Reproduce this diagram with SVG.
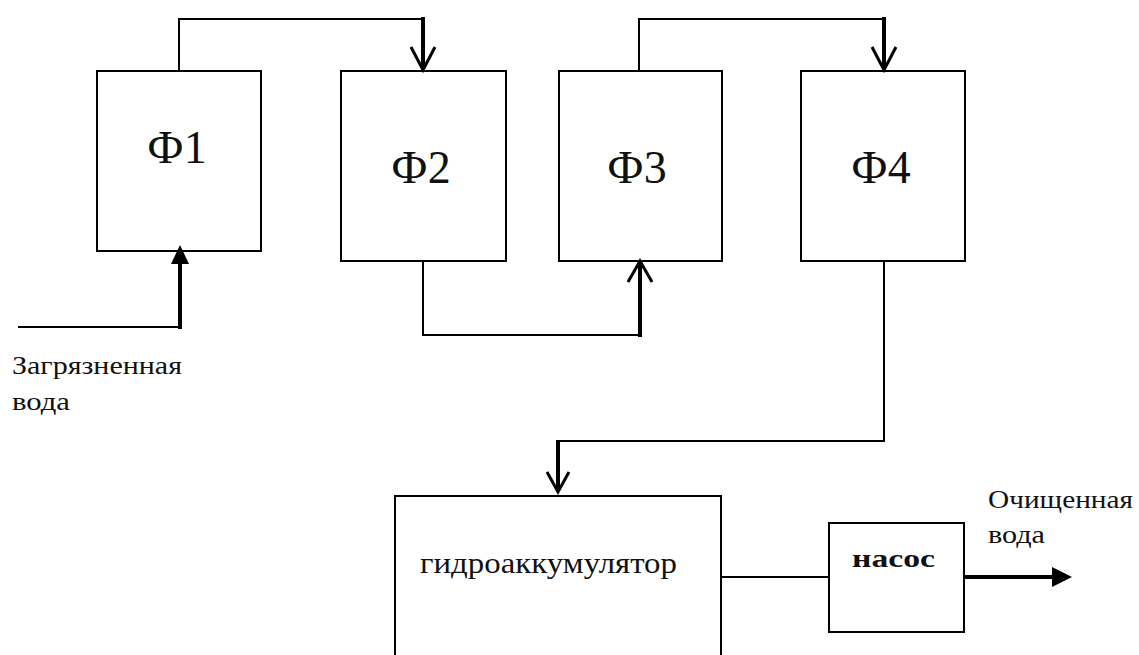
<svg xmlns="http://www.w3.org/2000/svg" width="1139" height="655" viewBox="0 0 1139 655">
<style>
.box{fill:#fff;stroke:#000;stroke-width:2}
.ln{fill:none;stroke:#000;stroke-width:2}
.thick{fill:none;stroke:#000;stroke-width:4}
.head{fill:none;stroke:#000;stroke-width:3}
.fh{fill:#000;stroke:none}
.big{font-family:"Liberation Serif","Times New Roman",serif;font-size:46px;fill:#111;text-anchor:middle}
.lbl{font-family:"Liberation Serif","Times New Roman",serif;font-size:25px;fill:#111}
.acc{font-family:"Liberation Serif","Times New Roman",serif;font-size:29px;fill:#111}
.pump{font-family:"Liberation Serif","Times New Roman",serif;font-size:26px;font-weight:bold;fill:#111}
</style>
<rect width="1139" height="655" fill="#fff"/>
<g id="f1"><rect class="box" x="97" y="71" width="164" height="180"/><text class="big" x="177" y="163">Ф1</text></g>
<g id="f2"><rect class="box" x="341" y="71" width="165" height="190"/><text class="big" x="421" y="183">Ф2</text></g>
<g id="f3"><rect class="box" x="559" y="71" width="163" height="190"/><text class="big" x="637" y="183">Ф3</text></g>
<g id="f4"><rect class="box" x="801" y="71" width="164" height="190"/><text class="big" x="881" y="183">Ф4</text></g>
<g id="accumulator"><rect class="box" x="395" y="496" width="326" height="170"/><text class="acc" x="420" y="573" textLength="257" lengthAdjust="spacingAndGlyphs">гидроаккумулятор</text></g>
<g id="pump"><rect class="box" x="829" y="523" width="135" height="109"/><text class="pump" x="852" y="567" textLength="83" lengthAdjust="spacingAndGlyphs">насос</text></g>
<g id="labels">
<text class="lbl" x="12" y="374" textLength="170" lengthAdjust="spacingAndGlyphs">Загрязненная</text>
<text class="lbl" x="12" y="410" textLength="58" lengthAdjust="spacingAndGlyphs">вода</text>
<text class="lbl" x="988" y="508" textLength="145" lengthAdjust="spacingAndGlyphs">Очищенная</text>
<text class="lbl" x="988" y="543" textLength="57" lengthAdjust="spacingAndGlyphs">вода</text>
</g>
<g id="connectors">
<polyline class="ln" points="18,327 180,327"/>
<line class="thick" x1="180" y1="329" x2="180" y2="262"/>
<polygon class="fh" points="180,245 189,264 171,264"/>
<polyline class="ln" points="179,71 179,19 423,19"/>
<line class="thick" x1="423" y1="17" x2="423" y2="69"/>
<polyline class="head" points="411,47 423,70 435,47"/>
<polyline class="ln" points="423,261 423,335 640,335"/>
<line class="thick" x1="640" y1="337" x2="640" y2="263"/>
<polyline class="head" points="628,282 640,261 652,282"/>
<polyline class="ln" points="639,71 639,19 884,19"/>
<line class="thick" x1="884" y1="17" x2="884" y2="69"/>
<polyline class="head" points="872,47 884,70 896,47"/>
<polyline class="ln" points="884,261 884,441 558,441"/>
<line class="thick" x1="558" y1="440" x2="558" y2="491"/>
<polyline class="head" points="547,472 558,492 569,472"/>
<line class="ln" x1="721" y1="577" x2="829" y2="577"/>
<line class="thick" x1="964" y1="577" x2="1054" y2="577"/>
<polygon class="fh" points="1072,577 1052,567 1052,587"/>
</g>
</svg>
